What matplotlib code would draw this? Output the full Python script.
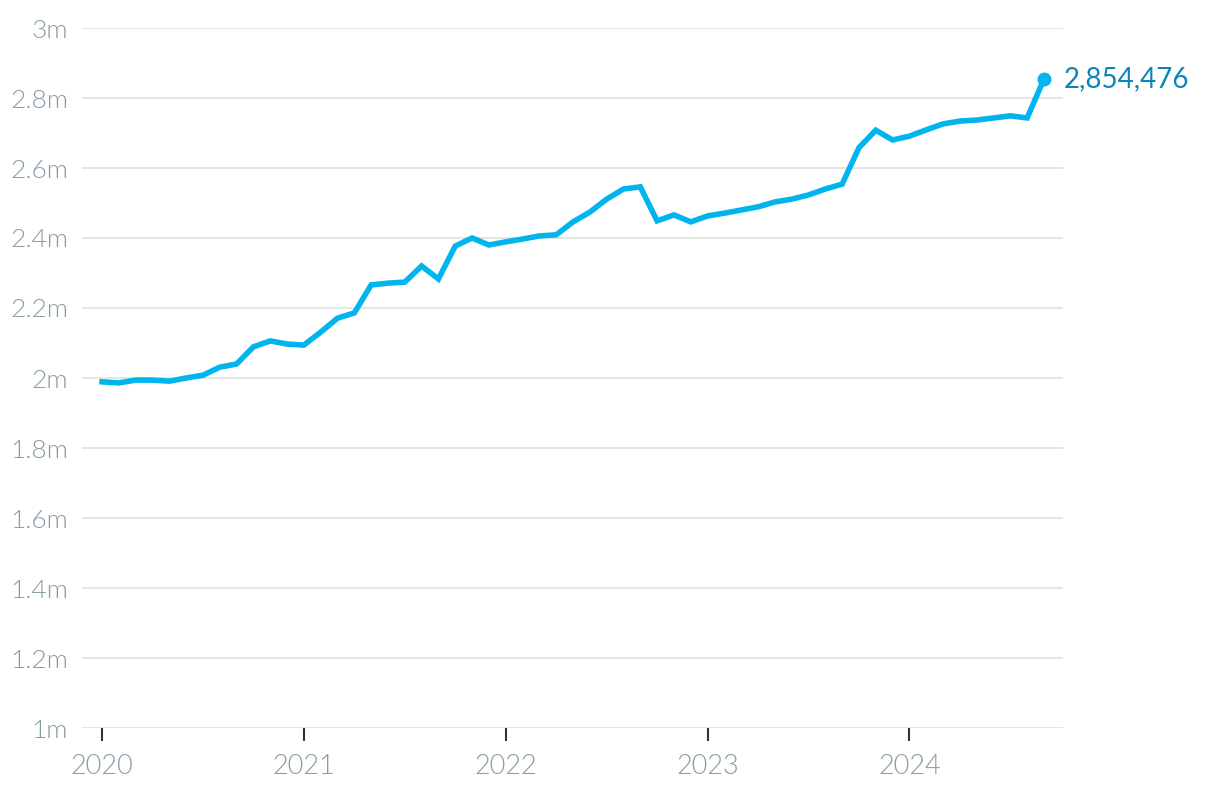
import matplotlib
matplotlib.use("Agg")
import matplotlib.pyplot as plt
from matplotlib.ticker import FuncFormatter

# monthly values, Jan 2020 .. Sep 2024 (millions)
values = [
    1.989, 1.986, 1.994, 1.994, 1.991, 2.000, 2.008, 2.031, 2.040, 2.089, 2.106, 2.097,
    2.094, 2.131, 2.171, 2.186, 2.266, 2.271, 2.274, 2.320, 2.283, 2.377, 2.400, 2.380,
    2.389, 2.397, 2.406, 2.409, 2.446, 2.474, 2.511, 2.540, 2.546, 2.449, 2.466, 2.446,
    2.463, 2.471, 2.480, 2.489, 2.503, 2.511, 2.523, 2.540, 2.554, 2.658, 2.708, 2.680,
    2.691, 2.709, 2.726, 2.734, 2.737, 2.743, 2.749, 2.743, 2.854476,
]
year_labels = ["2020", "2021", "2022", "2023", "2024"]
last_label = "2,854,476"

line_col = "#00b4ee"
label_col = "#0a86b9"
tick_col = "#889ca5"

plt.rcParams["font.family"] = ["Lato", "DejaVu Sans"]

fig = plt.figure(figsize=(12.2, 7.94), dpi=100)
ax = fig.add_axes([82 / 1220, (794 - 728) / 794, (1063 - 82) / 1220, 700 / 794])

months = list(range(len(values)))
ax.plot(months, values, color=line_col, lw=4, solid_joinstyle="miter", zorder=3)
ax.plot(months[-1], values[-1], "o", color=line_col, ms=9, zorder=4)
ax.text(months[-1] + 1.2, values[-1], last_label, color=label_col, fontsize=20,
        va="center", ha="left", fontweight="normal")

ax.set_ylim(1, 3)
ax.set_xlim(-1.19, 57.13)
ax.set_yticks([1 + 0.2 * i for i in range(11)])
ax.yaxis.set_major_formatter(FuncFormatter(lambda v, p: f"{v:.1f}".rstrip("0").rstrip(".") + "m"))
ax.set_xticks([12 * i for i in range(len(year_labels))])
ax.set_xticklabels(year_labels)

ax.grid(axis="y", color="#e3e3e3", lw=1.3, zorder=0)
for s in ax.spines.values():
    s.set_visible(False)
ax.tick_params(axis="y", length=0, pad=10, labelsize=19, labelcolor=tick_col)
ax.tick_params(axis="x", length=9, width=1.5, color="#333333", pad=10,
               labelsize=19.5, labelcolor=tick_col)
for t in ax.get_xticklabels() + ax.get_yticklabels():
    t.set_fontweight(300)

fig.savefig("out.png", dpi=100)
